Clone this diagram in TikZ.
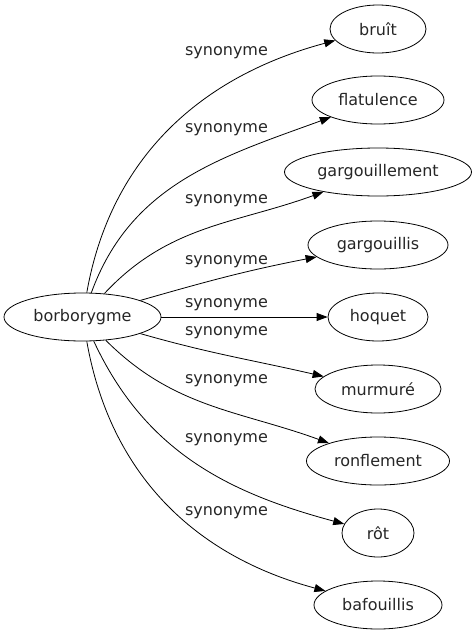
\documentclass[tikz,border=0pt]{standalone}
\usepackage{fontspec}
\setmainfont{DejaVu Sans}
\usetikzlibrary{shapes.geometric,arrows.meta}
\begin{document}
\begin{tikzpicture}[x=1pt,y=1pt,
  word/.style={draw, ellipse, line width=0.8pt, inner sep=0pt, minimum height=48pt, font=\fontsize{16}{19}\selectfont, text=black!85},
  rel/.style={font=\fontsize{16}{19}\selectfont, text=black!85, inner sep=0pt},
  link/.style={line width=0.8pt, -{Triangle[length=11pt,width=8pt]}}]
\useasboundingbox (0,0) rectangle (476,-635);
\node[word, minimum width=157pt] (src) at (82.5,-317) {borborygme};
\node[word, minimum width=96pt]  (t1) at (378,-29)  {bruît};
\node[word, minimum width=132pt] (t2) at (378,-100) {flatulence};
\node[word, minimum width=187pt] (t3) at (378,-172) {gargouillement};
\node[word, minimum width=140pt] (t4) at (378,-245) {gargouillis};
\node[word, minimum width=100pt] (t5) at (378,-317) {hoquet};
\node[word, minimum width=126pt] (t6) at (378,-389) {murmuré};
\node[word, minimum width=143pt] (t7) at (378,-461) {ronflement};
\node[word, minimum width=72pt]  (t8) at (378,-533) {rôt};
\node[word, minimum width=128pt] (t9) at (378,-605) {bafouillis};
\draw[link] (src) to[out=80,in=195] (t1);
\draw[link] (src) to[out=70,in=200] (t2);
\draw[link] (src) to[out=47,in=200] (t3);
\draw[link] (src) to[out=16,in=191] (t4);
\draw[link] (src) -- (t5);
\draw[link] (src) to[out=-16,in=167] (t6);
\draw[link] (src) to[out=-45,in=160] (t7);
\draw[link] (src) to[out=-65,in=165] (t8);
\draw[link] (src) to[out=-80,in=165] (t9);
\node[rel] (l1) at (226.5,-53) {synonyme};
\node[rel] (l2) at (226.5,-130) {synonyme};
\node[rel] (l3) at (226.5,-201) {synonyme};
\node[rel] (l4) at (226.5,-262) {synonyme};
\node[rel] (l5) at (226.5,-305) {synonyme};
\node[rel] (l6) at (226.5,-333) {synonyme};
\node[rel] (l7) at (226.5,-381) {synonyme};
\node[rel] (l8) at (226.5,-440) {synonyme};
\node[rel] (l9) at (226.5,-513) {synonyme};
\end{tikzpicture}
\end{document}
